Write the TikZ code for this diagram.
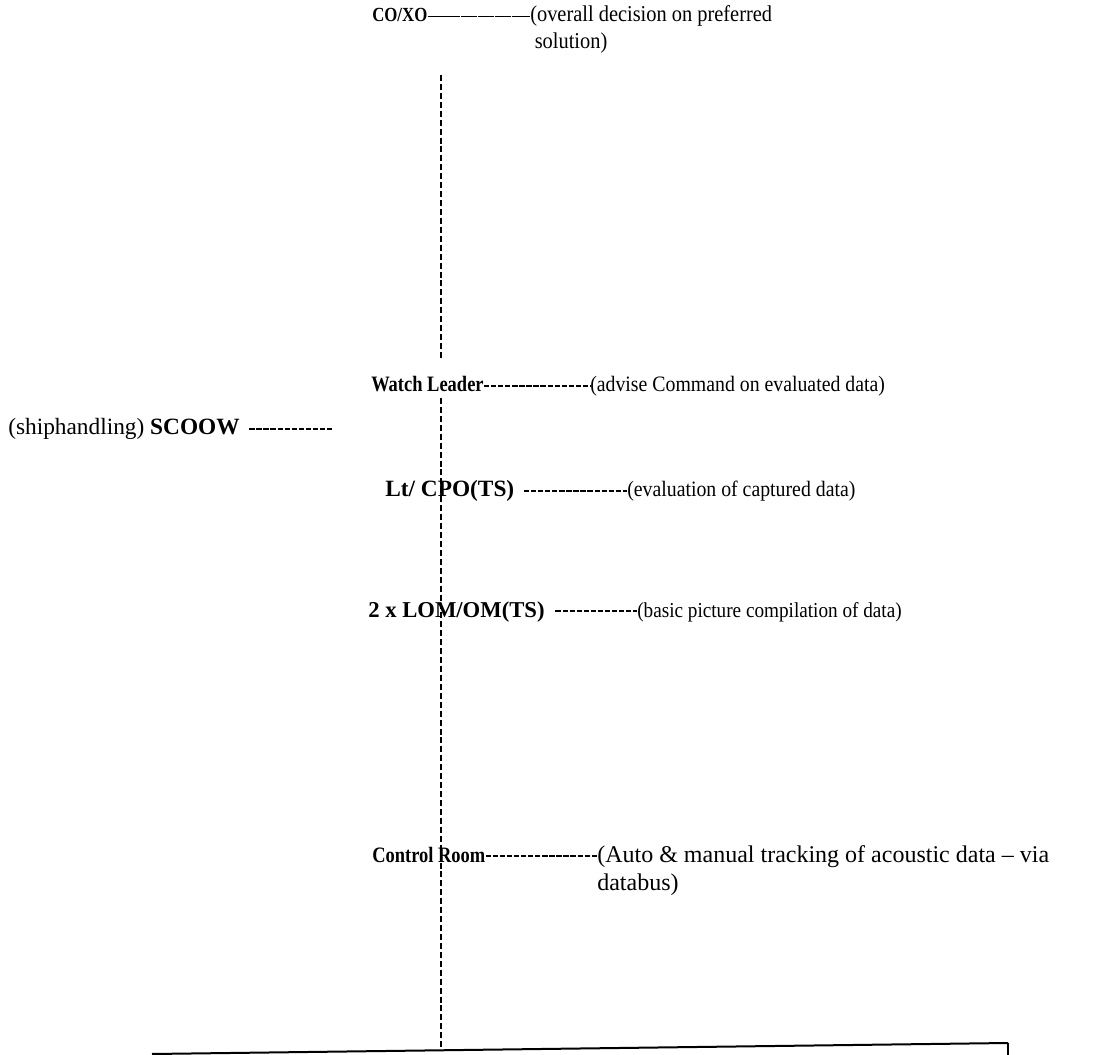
\documentclass[tikz,border=0pt]{standalone}
\usepackage{fontspec}
\setmainfont{Liberation Serif}
\newfontfamily\rolefont[FakeStretch=0.84]{Liberation Serif}
\newfontfamily\dutyfont[FakeStretch=0.9]{Liberation Serif}
\begin{document}
\begin{tikzpicture}[x=0.75pt, y=-0.75pt,
	role/.style={anchor=base west, inner sep=0pt, font=\rolefont\fontsize{#1}{20}\selectfont\bfseries},
	role/.default=16.5,
	wide role/.style={anchor=base west, inner sep=0pt, font=\fontsize{#1}{20}\selectfont\bfseries},
	duty/.style={anchor=base west, inner sep=0pt, font=\dutyfont\fontsize{#1}{20}\selectfont},
	duty/.default=16.5,
	wide duty/.style={anchor=base west, inner sep=0pt, font=\fontsize{#1}{21}\selectfont},
	hyph/.style={line width=1.2pt, dash pattern=on 4pt off 1.3pt},
	emdash/.style={line width=1.1pt, dash pattern=on 12pt off 0.6pt},
	spine/.style={line width=0.8pt, dash pattern=on 4.5pt off 2.2pt},
	baserule/.style={line width=1.5pt}]
	\useasboundingbox (0, 0) rectangle (1093, 1055);
	% Roles and duties:
	\node[role=15] (co) at (372, 22) {CO/XO};
	\node[duty=17] (coNote) at (530, 22) {\begin{tabular}[t]{@{}l@{}}(overall decision on preferred\\\hspace{0.2em}solution)\end{tabular}};
	\node[role] (wl) at (371, 392) {Watch Leader};
	\node[duty] (wlNote) at (590, 392) {(advise Command on evaluated data)};
	\node[wide duty=17.5] (scoow) at (8, 435) {(shiphandling) \textbf{SCOOW}};
	\node[wide role=17.5] (lt) at (385, 497) {Lt/ CPO(TS)};
	\node[duty] (ltNote) at (627, 497) {(evaluation of captured data)};
	\node[wide role=17] (lom) at (368, 617) {2 x LOM/OM(TS)};
	\node[duty=16] (lomNote) at (637, 617) {(basic picture compilation of data)};
	\node[role] (cr) at (372, 862) {Control Room};
	\node[wide duty=18] (crNote) at (597, 862) {\begin{tabular}[t]{@{}l@{}}(Auto \& manual tracking of acoustic data -- via\\databus)\end{tabular}};
	% Free ends:
	\coordinate (scoowEnd) at (333, 429);
	\coordinate (spineTop) at (441, 75);
	\coordinate (spineMid) at (441, 358);
	\coordinate (spineLow) at (441, 398);
	\coordinate (spineEnd) at (441, 1049);
	\coordinate (ruleL) at (152, 1054);
	\coordinate (ruleR) at (1008, 1043);
	\coordinate (ruleTick) at (1008, 1055);
	% Wires:
	\draw[emdash] ([yshift=4.3pt]co.base east) -- ([yshift=4.3pt]co.base east -| coNote.west);
	\draw[hyph] ([yshift=4.3pt]wl.base east) -- ([yshift=4.3pt]wl.base east -| wlNote.west);
	\draw[hyph] ([xshift=7pt, yshift=4.5pt]scoow.base east) -- (scoowEnd);
	\draw[hyph] ([xshift=7pt, yshift=4.3pt]lt.base east) -- ([yshift=4.3pt]lt.base east -| ltNote.west);
	\draw[hyph] ([xshift=8pt, yshift=4.3pt]lom.base east) -- ([yshift=4.3pt]lom.base east -| lomNote.west);
	\draw[hyph] ([yshift=4.3pt]cr.base east) -- ([yshift=4.3pt]cr.base east -| crNote.west);
	\draw[spine] (spineTop) -- (spineMid);
	\draw[spine] (spineLow) -- (spineEnd);
	\draw[baserule] (ruleL) -- (ruleR);
	\draw[line width=0.8pt] (ruleR) -- (ruleTick);
\end{tikzpicture}
\end{document}
